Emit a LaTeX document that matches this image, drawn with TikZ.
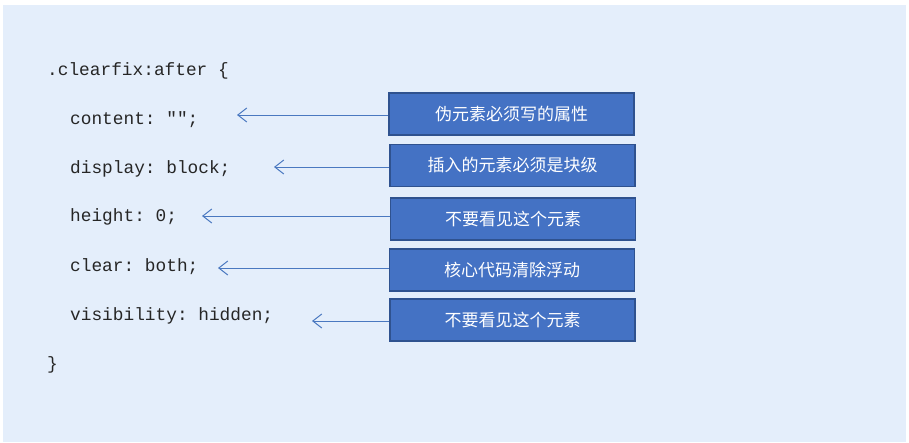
\documentclass[tikz,border=0pt]{standalone}
\usepackage{fontspec}
\setmonofont{Liberation Mono}
\newfontfamily\cjk{Noto Sans CJK SC}
\usetikzlibrary{arrows.meta}
\definecolor{bg}{HTML}{E4EEFB}
\definecolor{boxfill}{HTML}{4472C4}
\definecolor{boxline}{HTML}{2F528F}
\definecolor{arr}{HTML}{4A78C0}
\tikzset{
 tbox/.style={draw=boxline,line width=1.5pt,fill=boxfill,text=white,font=\cjk\fontsize{17}{20}\selectfont,minimum width=245pt,minimum height=42pt,inner sep=0pt},
 code/.style={anchor=west,font=\ttfamily\fontsize{17.8}{20}\selectfont,text=black!85,inner sep=0pt},
 conn/.style={draw=arr,line width=1pt,-{Straight Barb[length=9pt,width=14pt]}}
}
\begin{document}
\begin{tikzpicture}[x=1pt,y=-1pt]
\useasboundingbox (0,0) rectangle (909,442);
\fill[white] (0,0) rectangle (909,442);
\fill[bg] (3,5) rectangle (906,442);
\node[code] (c0) at (47,71) {.clearfix:after \{};
\node[code] (c1) at (70,120) {content: "";};
\node[code] (c2) at (70,169) {display: block;};
\node[code] (c3) at (70,217) {height: 0;};
\node[code] (c4) at (70,267) {clear: both;};
\node[code] (c5) at (70,316) {visibility: hidden;};
\node[code] (c6) at (47,365) {\}};
\node[tbox] (b1) at (511.5,114) {伪元素必须写的属性};
\node[tbox] (b2) at (512.5,165.5) {插入的元素必须是块级};
\node[tbox] (b3) at (513,219) {不要看见这个元素};
\node[tbox] (b4) at (512,270) {核心代码清除浮动};
\node[tbox] (b5) at (512.5,320) {不要看见这个元素};
\coordinate (e1) at (237,115);
\coordinate (e2) at (274,167);
\coordinate (e3) at (202,216);
\coordinate (e4) at (218,268);
\coordinate (e5) at (312,321);
\draw[conn] (b1.west |- e1) -- (e1);
\draw[conn] (b2.west |- e2) -- (e2);
\draw[conn] (b3.west |- e3) -- (e3);
\draw[conn] (b4.west |- e4) -- (e4);
\draw[conn] (b5.west |- e5) -- (e5);
\end{tikzpicture}
\end{document}
